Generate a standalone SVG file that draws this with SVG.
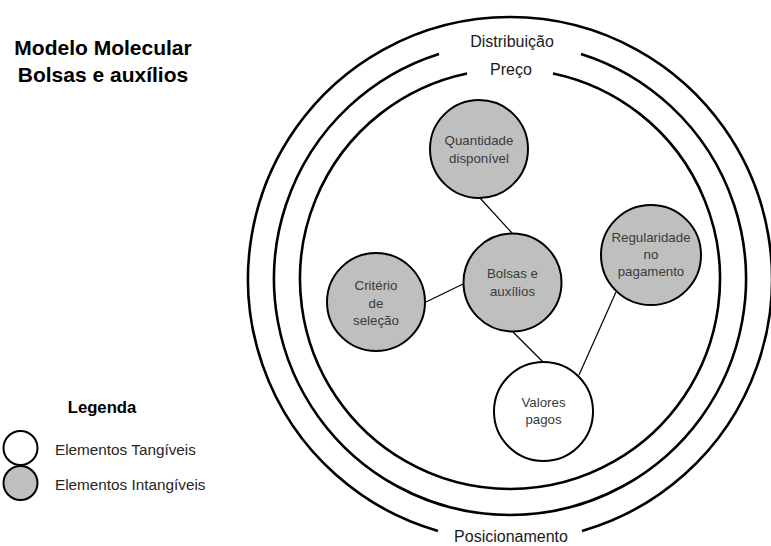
<svg xmlns="http://www.w3.org/2000/svg" width="771" height="546" viewBox="0 0 771 546">
  <style>
    .ring { fill: none; stroke: #000; stroke-width: 2.6; }
    .node { stroke: #000; stroke-width: 2; }
    .intang { fill: #bfbfbf; }
    .tang { fill: #fff; }
    .edge { stroke: #000; stroke-width: 1.2; fill: none; }
    .lbl { font-family: "Liberation Sans", Arial, sans-serif; font-size: 13.3px; fill: #3a3a3a; text-anchor: middle; }
    .ringlbl { font-family: "Liberation Sans", Arial, sans-serif; font-size: 16px; fill: #1a1a1a; text-anchor: middle; }
    .title { font-family: "Liberation Sans", Arial, sans-serif; font-size: 21px; font-weight: bold; fill: #000; text-anchor: middle; }
    .legtitle { font-family: "Liberation Sans", Arial, sans-serif; font-size: 16.7px; font-weight: bold; fill: #000; text-anchor: middle; }
    .legtext { font-family: "Liberation Sans", Arial, sans-serif; font-size: 15.3px; fill: #262626; }
  </style>
  <rect width="771" height="546" fill="#fff"/>

  <!-- title -->
  <g id="title">
    <text class="title" x="103" y="55">Modelo Molecular</text>
    <text class="title" x="103" y="82">Bolsas e auxílios</text>
  </g>

  <!-- concentric rings with label gaps -->
  <g id="ring-posicionamento">
    <path class="ring" d="M438,530.9 A262,262 0 1 1 582,530.9"/>
    <text class="ringlbl" x="511" y="542">Posicionamento</text>
  </g>
  <g id="ring-distribuicao">
    <path class="ring" d="M581,53.9 A236,236 0 1 1 439,53.9"/>
    <text class="ringlbl" x="512" y="47">Distribuição</text>
  </g>
  <g id="ring-preco">
    <path class="ring" d="M553,73.4 A210,210 0 1 1 467,73.4"/>
    <text class="ringlbl" x="511" y="75">Preço</text>
  </g>

  <!-- connectors -->
  <g id="connectors">
    <line class="edge" x1="480" y1="198" x2="512" y2="233"/>
    <line class="edge" x1="426" y1="302" x2="463" y2="284"/>
    <line class="edge" x1="513" y1="332" x2="543" y2="362"/>
    <line class="edge" x1="616" y1="292" x2="579" y2="375"/>
  </g>

  <!-- nodes -->
  <g id="node-quantidade">
    <circle class="node intang" cx="479" cy="149" r="49"/>
    <text class="lbl" x="479" y="145">Quantidade</text>
    <text class="lbl" x="479" y="163">disponível</text>
  </g>
  <g id="node-bolsas">
    <circle class="node intang" cx="512.5" cy="282.5" r="49"/>
    <text class="lbl" x="512.5" y="278">Bolsas e</text>
    <text class="lbl" x="512.5" y="296">auxílios</text>
  </g>
  <g id="node-criterio">
    <circle class="node intang" cx="376" cy="302" r="49"/>
    <text class="lbl" x="376" y="290">Critério</text>
    <text class="lbl" x="376" y="308">de</text>
    <text class="lbl" x="376" y="325">seleção</text>
  </g>
  <g id="node-regularidade">
    <circle class="node intang" cx="651" cy="255" r="50"/>
    <text class="lbl" x="651" y="242">Regularidade</text>
    <text class="lbl" x="651" y="259">no</text>
    <text class="lbl" x="651" y="276">pagamento</text>
  </g>
  <g id="node-valores">
    <circle class="node tang" cx="543.5" cy="411.5" r="49.5"/>
    <text class="lbl" x="543.5" y="407">Valores</text>
    <text class="lbl" x="543.5" y="424">pagos</text>
  </g>

  <!-- legend -->
  <g id="legend">
    <text class="legtitle" x="102" y="413">Legenda</text>
    <circle class="node tang" cx="20.5" cy="448" r="17"/>
    <text class="legtext" x="55" y="455">Elementos Tangíveis</text>
    <circle class="node intang" cx="20.5" cy="483" r="17"/>
    <text class="legtext" x="55" y="490">Elementos Intangíveis</text>
  </g>
</svg>
